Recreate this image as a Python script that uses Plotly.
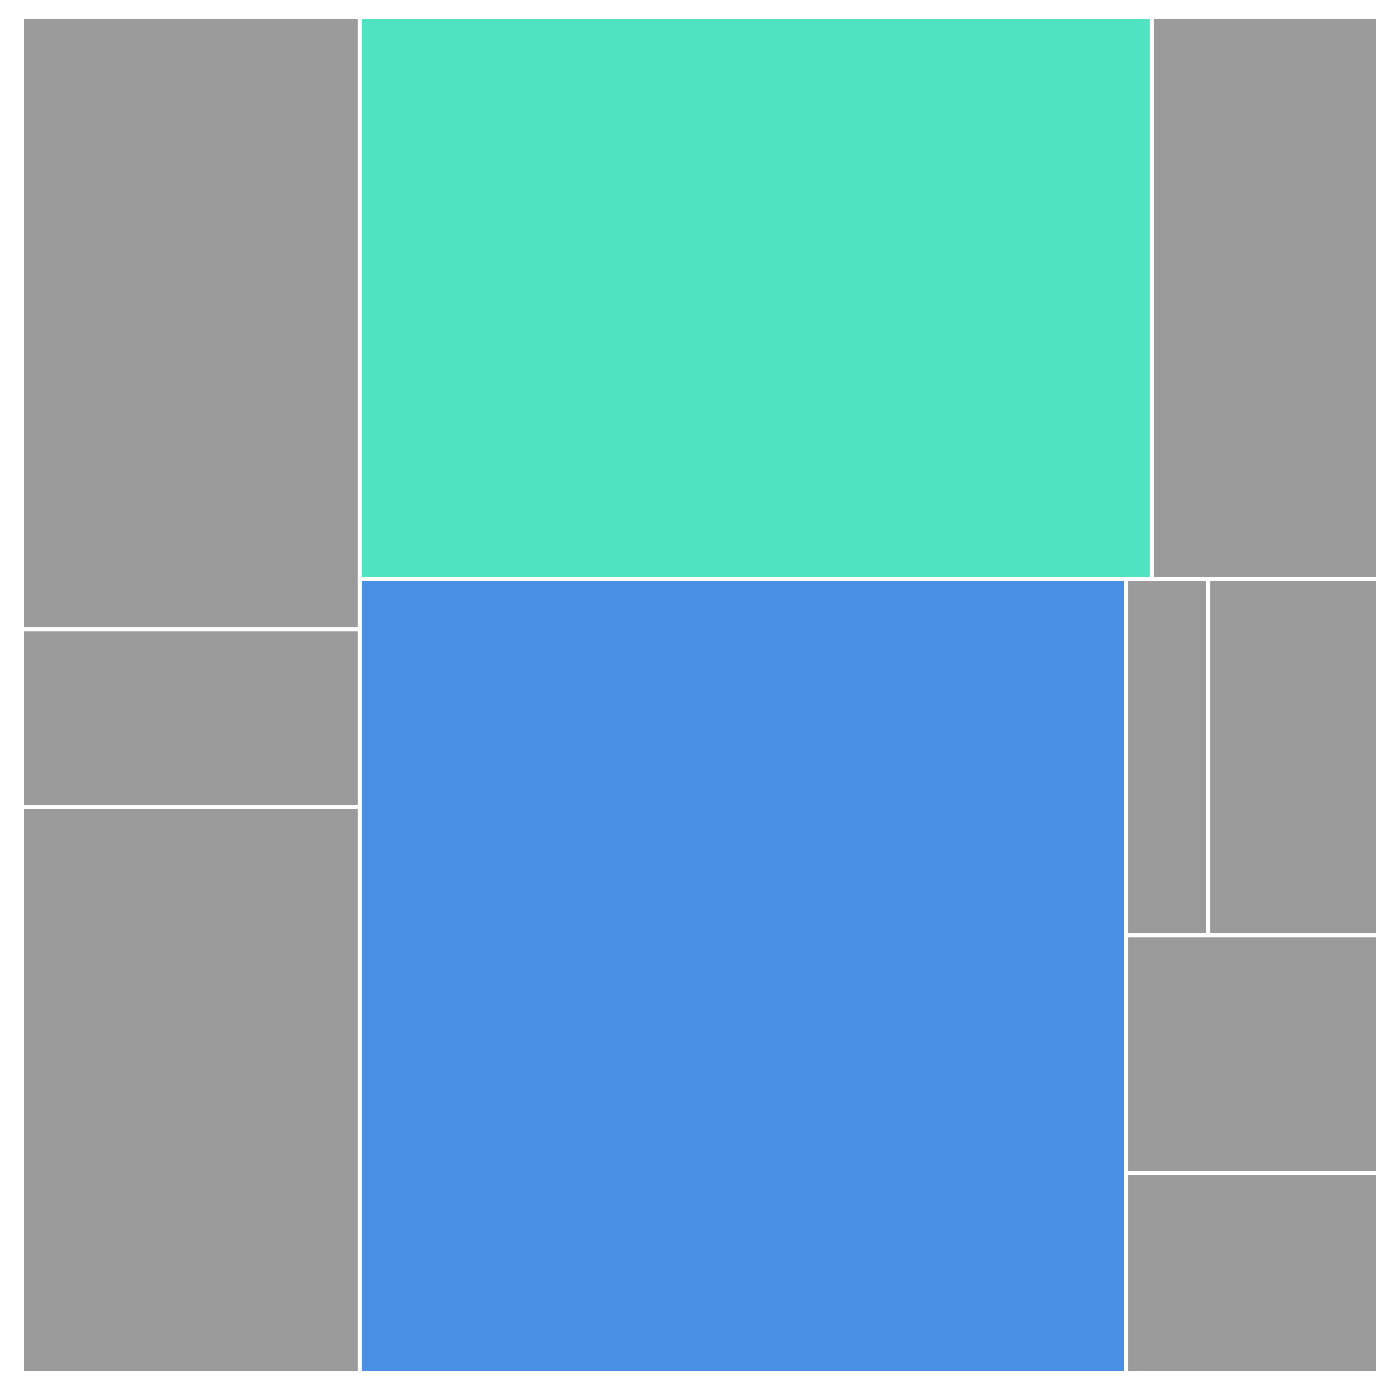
import plotly.graph_objects as go

labels = ["A", "B", "C", "D", "E", "F", "G", "H", "I", "J"]
parents = [""] * 10
values = [112.5, 32.7, 104.0, 242.1, 69.1, 330.8, 15.9, 32.9, 32.6, 27.4]
colors = ["#9B9B9B", "#9B9B9B", "#9B9B9B", "#50E3C2", "#9B9B9B",
          "#4A90E2", "#9B9B9B", "#9B9B9B", "#9B9B9B", "#9B9B9B"]

fig = go.Figure(go.Treemap(
    labels=labels,
    parents=parents,
    values=values,
    sort=False,
    textinfo="none",
    marker=dict(colors=colors, line=dict(color="white", width=4),
                pad=dict(t=0, l=0, r=0, b=0)),
    tiling=dict(packing="squarify", squarifyratio=1.618034, pad=0),
    pathbar=dict(visible=False),
))

fig.update_layout(
    width=1400, height=1400,
    margin=dict(l=22, r=22, t=17, b=27),
    paper_bgcolor="white",
    plot_bgcolor="white",
)

fig.write_html("out.html")
